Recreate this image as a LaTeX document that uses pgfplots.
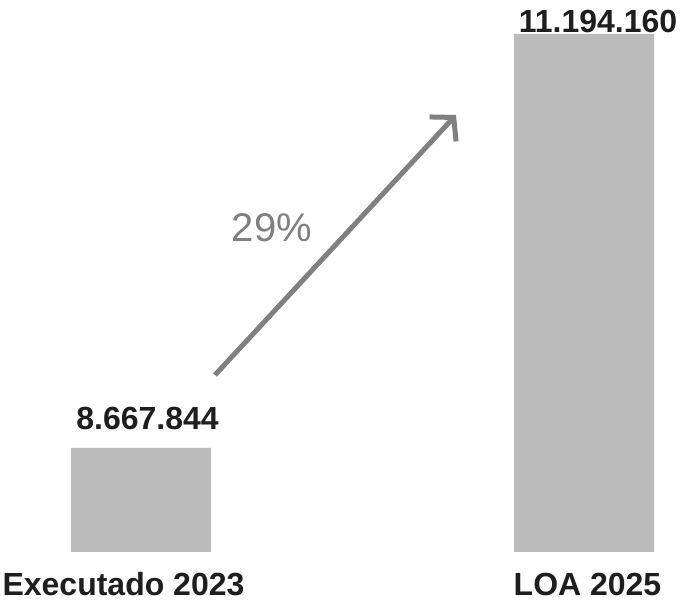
\documentclass[border=0pt]{standalone}
\usepackage{fontspec}
\setmainfont{Liberation Sans}
\usepackage{pgfplots}
\pgfplotsset{compat=1.18}
\usetikzlibrary{arrows.meta}

\definecolor{barfill}{RGB}{187,187,187}
\definecolor{arrowgray}{RGB}{128,128,128}
\definecolor{textdark}{RGB}{30,30,30}

\begin{document}
\begin{tikzpicture}
  \begin{axis}[
    at={(0,60bp)}, anchor=south west,
    scale only axis,
    width=689bp, height=552bp,
    xmin=-0.3183, xmax=1.2370,
    ymin=8033200, ymax=11401500,
    hide axis,
    clip mode=individual,
    ybar, bar width=140bp, bar shift=0pt,
  ]
    \addplot[fill=barfill, draw=none] coordinates {(0,8667844) (1,11194160)};

    % value labels
    \node[anchor=base, text=textdark, font=\fontsize{32bp}{38bp}\selectfont\bfseries, yshift=18bp]
      at (axis cs:0.0147,8667844) {8.667.844};
    \node[anchor=base, text=textdark, font=\fontsize{32bp}{38bp}\selectfont\bfseries, yshift=1bp]
      at (axis cs:1.0316,11194160) {11.194.160};

    % category labels
    \node[anchor=base, text=textdark, font=\fontsize{32bp}{38bp}\selectfont\bfseries, yshift=-43bp]
      at (axis cs:-0.0395,8033200) {Executado 2023};
    \node[anchor=base, text=textdark, font=\fontsize{32bp}{38bp}\selectfont\bfseries, yshift=-43bp]
      at (axis cs:1.0079,8033200) {LOA 2025};
  \end{axis}

  % growth arrow and percentage
  \draw[arrowgray, line width=5bp, -{Straight Barb[length=16bp,width=36bp]}]
    (215bp,237bp) -- (456bp,497bp);
  \node[anchor=base, text=arrowgray, font=\fontsize{40bp}{46bp}\selectfont] at (272bp,370bp) {29\%};

  \pgfresetboundingbox
  \path (0,0) rectangle (689bp,612bp);
\end{tikzpicture}
\end{document}
